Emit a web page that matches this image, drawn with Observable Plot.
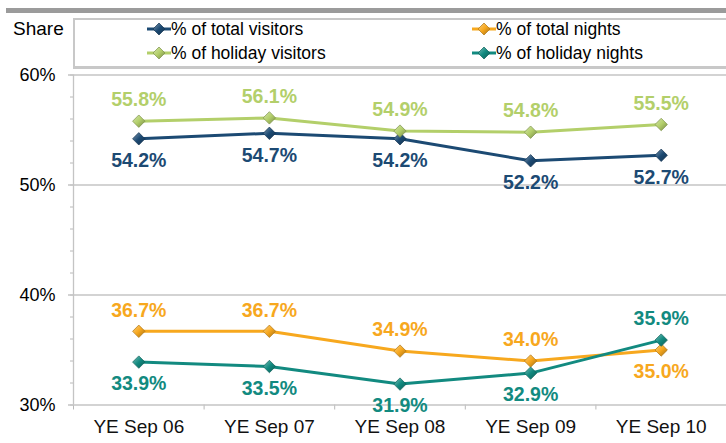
<!DOCTYPE html>
<html>
<head>
<meta charset="utf-8">
<script src="https://cdn.jsdelivr.net/npm/d3@7"></script>
<script src="https://cdn.jsdelivr.net/npm/@observablehq/plot@0.6"></script>
<style>
  html, body { margin: 0; padding: 0; background: #fff; }
  #wrap { position: relative; width: 726px; height: 443px; overflow: hidden; font-family: "Liberation Sans", Arial, sans-serif; }
  #topbar { position: absolute; left: 6px; top: 8px; width: 720px; height: 5px; background: #9b9b9b; }
  #share { position: absolute; left: 13px; top: 19px; font-size: 19px; line-height: 19px; color: #000; }
  #legend { position: absolute; left: 73px; top: 18px; width: 651px; height: 46px; border: 2px solid #c8c8c8; border-bottom-width: 3px; background: #fff; }
  .lg { position: absolute; font-size: 17.5px; line-height: 20px; color: #000; white-space: nowrap; }
  .lg svg { vertical-align: top; margin-top: 3px; }
  #chart { position: absolute; left: 0; top: 0; }
  #chart svg [aria-label^="x-axis"] line, #chart svg [aria-label^="x-axis tick"] path,
  #chart svg [aria-label^="y-axis"] line, #chart svg [aria-label^="y-axis tick"] path { stroke: #b8b8b8; }
</style>
</head>
<body>
<div id="wrap">
  <div id="chart"></div>
  <div id="topbar"></div>
  <div id="share">Share</div>
  <div id="legend"></div>
</div>
<svg width="0" height="0" style="position:absolute"><defs id="defs"></defs></svg>
<script>
const years = ["YE Sep 06", "YE Sep 07", "YE Sep 08", "YE Sep 09", "YE Sep 10"];
const seriesNames = ["% of total visitors", "% of total nights", "% of holiday visitors", "% of holiday nights"];
const totalVisitors = [54.2, 54.7, 54.2, 52.2, 52.7];
const totalNights = [36.7, 36.7, 34.9, 34.0, 35.0];
const holidayVisitors = [55.8, 56.1, 54.9, 54.8, 55.5];
const holidayNights = [33.9, 33.5, 31.9, 32.9, 35.9];
const seriesColors = ["#1c4a73", "#f7a81e", "#b3cf6a", "#128a80"];
const yTicksMajor = [30, 40, 50, 60];
const yTicksMinor = d3.range(30, 61, 2);

const seriesValues = [totalVisitors, totalNights, holidayVisitors, holidayNights];
// pairs: visitors (0,2), nights (1,3)
const partner = [2, 3, 0, 1];

// gradients for the bevelled diamond markers
const defs = d3.select("#defs");
seriesColors.forEach((c, s) => {
  const g = defs.append("linearGradient").attr("id", "grad" + s)
    .attr("x1", "0").attr("y1", "0").attr("x2", "1").attr("y2", "1");
  g.append("stop").attr("offset", "0%").attr("stop-color", d3.interpolateRgb(c, "#fff")(0.45));
  g.append("stop").attr("offset", "50%").attr("stop-color", c);
  g.append("stop").attr("offset", "100%").attr("stop-color", d3.interpolateRgb(c, "#000")(0.35));
});

const pts = seriesNames.flatMap((name, s) =>
  seriesValues[s].map((v, i) => ({
    series: name, s, i, x: i + 0.5, v,
    above: v >= seriesValues[partner[s]][i]
  })));

const marks = [
  Plot.ruleY(yTicksMajor, {stroke: "#c4c4c4", strokeWidth: 1.3, insetLeft: -5}),
  Plot.ruleX([0], {stroke: "#c4c4c4", strokeWidth: 1.3}),
  Plot.text(years, {x: (d, i) => i + 0.5, frameAnchor: "bottom", dy: 28, fontSize: 19, fill: "#111"}),
  Plot.line(pts, {x: "x", y: "v", z: "series", stroke: "series", strokeWidth: 3})
];
seriesNames.forEach((name, s) => {
  marks.push(Plot.dot(pts.filter(d => d.s === s), {
    x: "x", y: "v", symbol: "diamond2", r: 5.6,
    fill: "url(#grad" + s + ")", stroke: d3.interpolateRgb(seriesColors[s], "#000")(0.3), strokeWidth: 0.7
  }));
});
marks.push(
  Plot.text(pts.filter(d => d.above), {x: "x", y: "v", text: d => d.v.toFixed(1) + "%", fill: "series", dy: -21, fontSize: 19.5, fontWeight: "bold"}),
  Plot.text(pts.filter(d => !d.above), {x: "x", y: "v", text: d => d.v.toFixed(1) + "%", fill: "series", dy: 22, fontSize: 19.5, fontWeight: "bold"})
);

const chart = Plot.plot({
  width: 726,
  height: 443,
  marginTop: 74.5,
  marginBottom: 38.5,
  marginLeft: 73,
  marginRight: 0,
  style: {fontFamily: "Liberation Sans, Arial, sans-serif", fontSize: "18px", color: "#000", background: "transparent", overflow: "visible"},
  x: {domain: [0, 5], ticks: [0, 1, 2, 3, 4, 5], tickSize: 5, tickFormat: () => "", label: null},
  y: {domain: [30, 60], ticks: yTicksMinor, tickSize: 3, tickPadding: 15, tickFormat: d => d % 10 === 0 ? d + "%" : "", label: null},
  color: {domain: seriesNames, range: seriesColors},
  marks
});
document.getElementById("chart").appendChild(chart);

// legend
const legend = d3.select("#legend");
seriesNames.forEach((name, s) => {
  const col = s % 2, row = Math.floor(s / 2);
  const item = legend.append("div").attr("class", "lg")
    .style("left", (col === 0 ? 72 : 397) + "px")
    .style("top", (row === 0 ? -1 : 23) + "px");
  const sv = item.append("svg").attr("width", 24).attr("height", 14);
  sv.append("line").attr("x1", 0).attr("x2", 24).attr("y1", 7).attr("y2", 7)
    .attr("stroke", seriesColors[s]).attr("stroke-width", 3);
  sv.append("path").attr("d", "M12,1L18,7L12,13L6,7Z")
    .attr("fill", "url(#grad" + s + ")")
    .attr("stroke", d3.interpolateRgb(seriesColors[s], "#000")(0.3)).attr("stroke-width", 0.7);
  item.append("span").text(name);
});
</script>
</body>
</html>
